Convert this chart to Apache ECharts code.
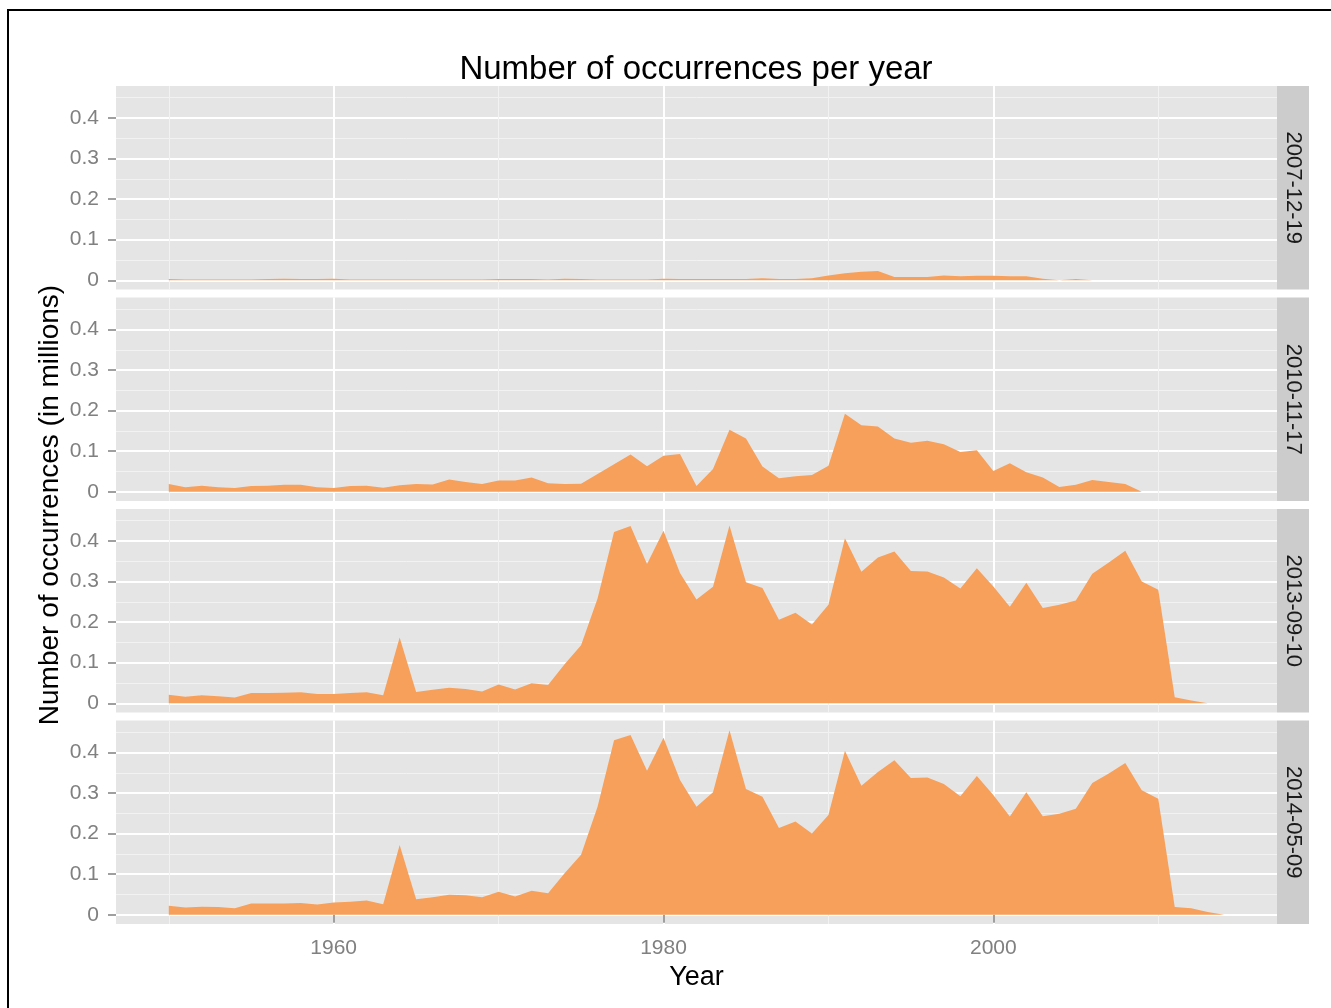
<!DOCTYPE html>
<html>
<head>
<meta charset="utf-8">
<title>Number of occurrences per year</title>
<script src="https://cdn.jsdelivr.net/npm/echarts@6/dist/echarts.min.js"></script>
<style>
  html, body { margin: 0; padding: 0; background: #fff; }
  #chart { width: 1331px; height: 1008px; }
</style>
</head>
<body>
<div id="chart"></div>
<script>
// years on the x axis
const years = [
  1950, 1951, 1952, 1953, 1954, 1955, 1956, 1957, 1958, 1959,
  1960, 1961, 1962, 1963, 1964, 1965, 1966, 1967, 1968, 1969,
  1970, 1971, 1972, 1973, 1974, 1975, 1976, 1977, 1978, 1979,
  1980, 1981, 1982, 1983, 1984, 1985, 1986, 1987, 1988, 1989,
  1990, 1991, 1992, 1993, 1994, 1995, 1996, 1997, 1998, 1999,
  2000, 2001, 2002, 2003, 2004, 2005, 2006, 2007, 2008, 2009,
  2010, 2011, 2012, 2013, 2014
];

// facet labels (one per panel, top to bottom)
const snapshots = ['2007-12-19', '2010-11-17', '2013-09-10', '2014-05-09'];

// occurrences in millions, starting at 1950
const occ_2007_12_19 = [
  0.003, 0.002, 0.002, 0.002, 0.002, 0.002, 0.003, 0.004, 0.003, 0.003,
  0.004, 0.002, 0.002, 0.002, 0.002, 0.002, 0.002, 0.002, 0.002, 0.002,
  0.003, 0.003, 0.003, 0.002, 0.004, 0.003, 0.002, 0.002, 0.002, 0.002,
  0.004, 0.003, 0.003, 0.003, 0.003, 0.003, 0.005, 0.003, 0.003, 0.005,
  0.012, 0.017, 0.021, 0.023, 0.008, 0.008, 0.008, 0.012, 0.010, 0.011,
  0.011, 0.010, 0.010, 0.004, 0.000, 0.003, 0.000
];
const occ_2010_11_17 = [
  0.019, 0.011, 0.015, 0.011, 0.009, 0.014, 0.015, 0.017, 0.017, 0.011,
  0.009, 0.014, 0.015, 0.010, 0.016, 0.019, 0.018, 0.030, 0.024, 0.019,
  0.028, 0.028, 0.035, 0.021, 0.019, 0.020, 0.044, 0.068, 0.092, 0.063,
  0.089, 0.093, 0.014, 0.056, 0.153, 0.131, 0.062, 0.033, 0.038, 0.041,
  0.064, 0.192, 0.164, 0.161, 0.131, 0.121, 0.126, 0.117, 0.098, 0.102,
  0.051, 0.070, 0.048, 0.035, 0.012, 0.017, 0.029, 0.024, 0.019, 0.000
];
const occ_2013_09_10 = [
  0.021, 0.016, 0.020, 0.017, 0.014, 0.025, 0.025, 0.026, 0.027, 0.023,
  0.023, 0.025, 0.027, 0.020, 0.162, 0.028, 0.033, 0.038, 0.035, 0.029,
  0.046, 0.034, 0.049, 0.045, 0.096, 0.143, 0.258, 0.422, 0.437, 0.343,
  0.425, 0.321, 0.256, 0.287, 0.438, 0.298, 0.284, 0.206, 0.223, 0.194,
  0.243, 0.407, 0.324, 0.359, 0.374, 0.326, 0.325, 0.310, 0.283, 0.333,
  0.288, 0.238, 0.297, 0.235, 0.243, 0.253, 0.319, 0.347, 0.376, 0.300,
  0.280, 0.015, 0.007, 0.000
];
const occ_2014_05_09 = [
  0.022, 0.018, 0.020, 0.019, 0.016, 0.028, 0.028, 0.028, 0.029, 0.025,
  0.030, 0.032, 0.035, 0.026, 0.172, 0.038, 0.043, 0.049, 0.048, 0.043,
  0.057, 0.045, 0.059, 0.053, 0.102, 0.148, 0.266, 0.430, 0.443, 0.355,
  0.436, 0.332, 0.266, 0.302, 0.455, 0.310, 0.291, 0.214, 0.230, 0.200,
  0.246, 0.404, 0.318, 0.352, 0.381, 0.337, 0.338, 0.322, 0.292, 0.342,
  0.295, 0.242, 0.302, 0.243, 0.249, 0.261, 0.325, 0.348, 0.374, 0.307,
  0.286, 0.019, 0.016, 0.007, 0.000
];

const yTicks = [0, 0.1, 0.2, 0.3, 0.4];
const xTicks = [1960, 1980, 2000];

const panelValues = [occ_2007_12_19, occ_2010_11_17, occ_2013_09_10, occ_2014_05_09];

const FONT = '"Liberation Sans", Arial, Helvetica, sans-serif';
const panelLeft = 116;
const panelWidth = 1161;
const panelHeight = 203.5;
const panelTops = [86, 297.5, 509, 720.5];
const stripWidth = 32;

const chart = echarts.init(document.getElementById('chart'));

const grid = panelTops.map(top => ({
  left: panelLeft,
  top: top,
  width: panelWidth,
  height: panelHeight,
  show: true,
  backgroundColor: '#e5e5e5',
  borderWidth: 0
}));

const xAxis = panelTops.map((_, i) => {
  const last = i === panelTops.length - 1;
  return {
    type: 'value',
    gridIndex: i,
    min: 1946.8,
    max: 2017.2,
    splitNumber: 3,
    axisLine: {show: false},
    axisTick: {
      show: last,
      customValues: xTicks,
      length: 8,
      lineStyle: {color: '#808080', width: 1.5}
    },
    axisLabel: {
      show: last,
      customValues: xTicks,
      formatter: v => String(v),
      margin: 14,
      color: '#808080',
      fontSize: 21,
      fontFamily: FONT
    },
    splitLine: {
      show: true,
      lineStyle: {color: '#ffffff', width: 2}
    },
    minorTick: {show: false, splitNumber: 2},
    minorSplitLine: {show: true, lineStyle: {color: '#f2f2f2', width: 1}},
    name: last ? 'Year' : '',
    nameLocation: 'middle',
    nameGap: 40,
    nameTextStyle: {color: '#000', fontSize: 27, fontFamily: FONT}
  };
});

const yAxis = panelTops.map((_, i) => ({
  type: 'value',
  gridIndex: i,
  min: -0.0228,
  max: 0.4788,
  splitNumber: 5,
  axisLine: {show: false},
  axisTick: {
    show: true,
    customValues: yTicks,
    length: 8,
    lineStyle: {color: '#808080', width: 1.5}
  },
  axisLabel: {
    customValues: yTicks,
    formatter: v => (v === 0 ? '0' : v.toFixed(1)),
    margin: 17,
    color: '#808080',
    fontSize: 21,
    fontFamily: FONT
  },
  splitLine: {
    show: true,
    lineStyle: {color: '#ffffff', width: 2}
  },
  minorTick: {show: false, splitNumber: 2},
  minorSplitLine: {show: true, lineStyle: {color: '#f2f2f2', width: 1}}
}));

const series = panelValues.map((vals, i) => ({
  type: 'line',
  name: snapshots[i],
  xAxisIndex: i,
  yAxisIndex: i,
  data: vals.map((v, k) => [years[k], v]),
  symbol: 'none',
  showSymbol: false,
  silent: true,
  lineStyle: {width: 0},
  areaStyle: {color: '#f7a05b', opacity: 1}
}));

// facet strips on the right
const strips = [];
panelTops.forEach((top, i) => {
  strips.push({
    type: 'rect',
    shape: {x: panelLeft + panelWidth, y: top, width: stripWidth, height: panelHeight},
    style: {fill: '#cccccc'},
    silent: true
  });
  strips.push({
    type: 'text',
    x: panelLeft + panelWidth + stripWidth / 2,
    y: top + panelHeight / 2,
    rotation: -Math.PI / 2,
    style: {
      text: snapshots[i],
      font: '22px ' + FONT,
      fill: '#1a1a1a',
      align: 'center',
      verticalAlign: 'middle'
    },
    silent: true
  });
});

chart.setOption({
  backgroundColor: '#ffffff',
  animation: false,
  title: {
    text: 'Number of occurrences per year',
    left: 696,
    top: 53,
    padding: 0,
    textAlign: 'center',
    textStyle: {color: '#000', fontSize: 33, fontWeight: 'normal', fontFamily: FONT}
  },
  grid: grid,
  xAxis: xAxis,
  yAxis: yAxis,
  series: series,
  graphic: [
    // outer frame
    {
      type: 'rect',
      shape: {x: 8, y: 10, width: 1340, height: 1020},
      style: {fill: 'none', stroke: '#000', lineWidth: 2},
      silent: true
    },
    {
      type: 'text',
      x: 50,
      y: 505,
      rotation: Math.PI / 2,
      style: {
        text: 'Number of occurrences (in millions)',
        font: '28px ' + FONT,
        fill: '#000',
        align: 'center',
        verticalAlign: 'middle'
      },
      silent: true
    },
    ...strips
  ]
});

window.onresize = () => chart.resize();
</script>
</body>
</html>
